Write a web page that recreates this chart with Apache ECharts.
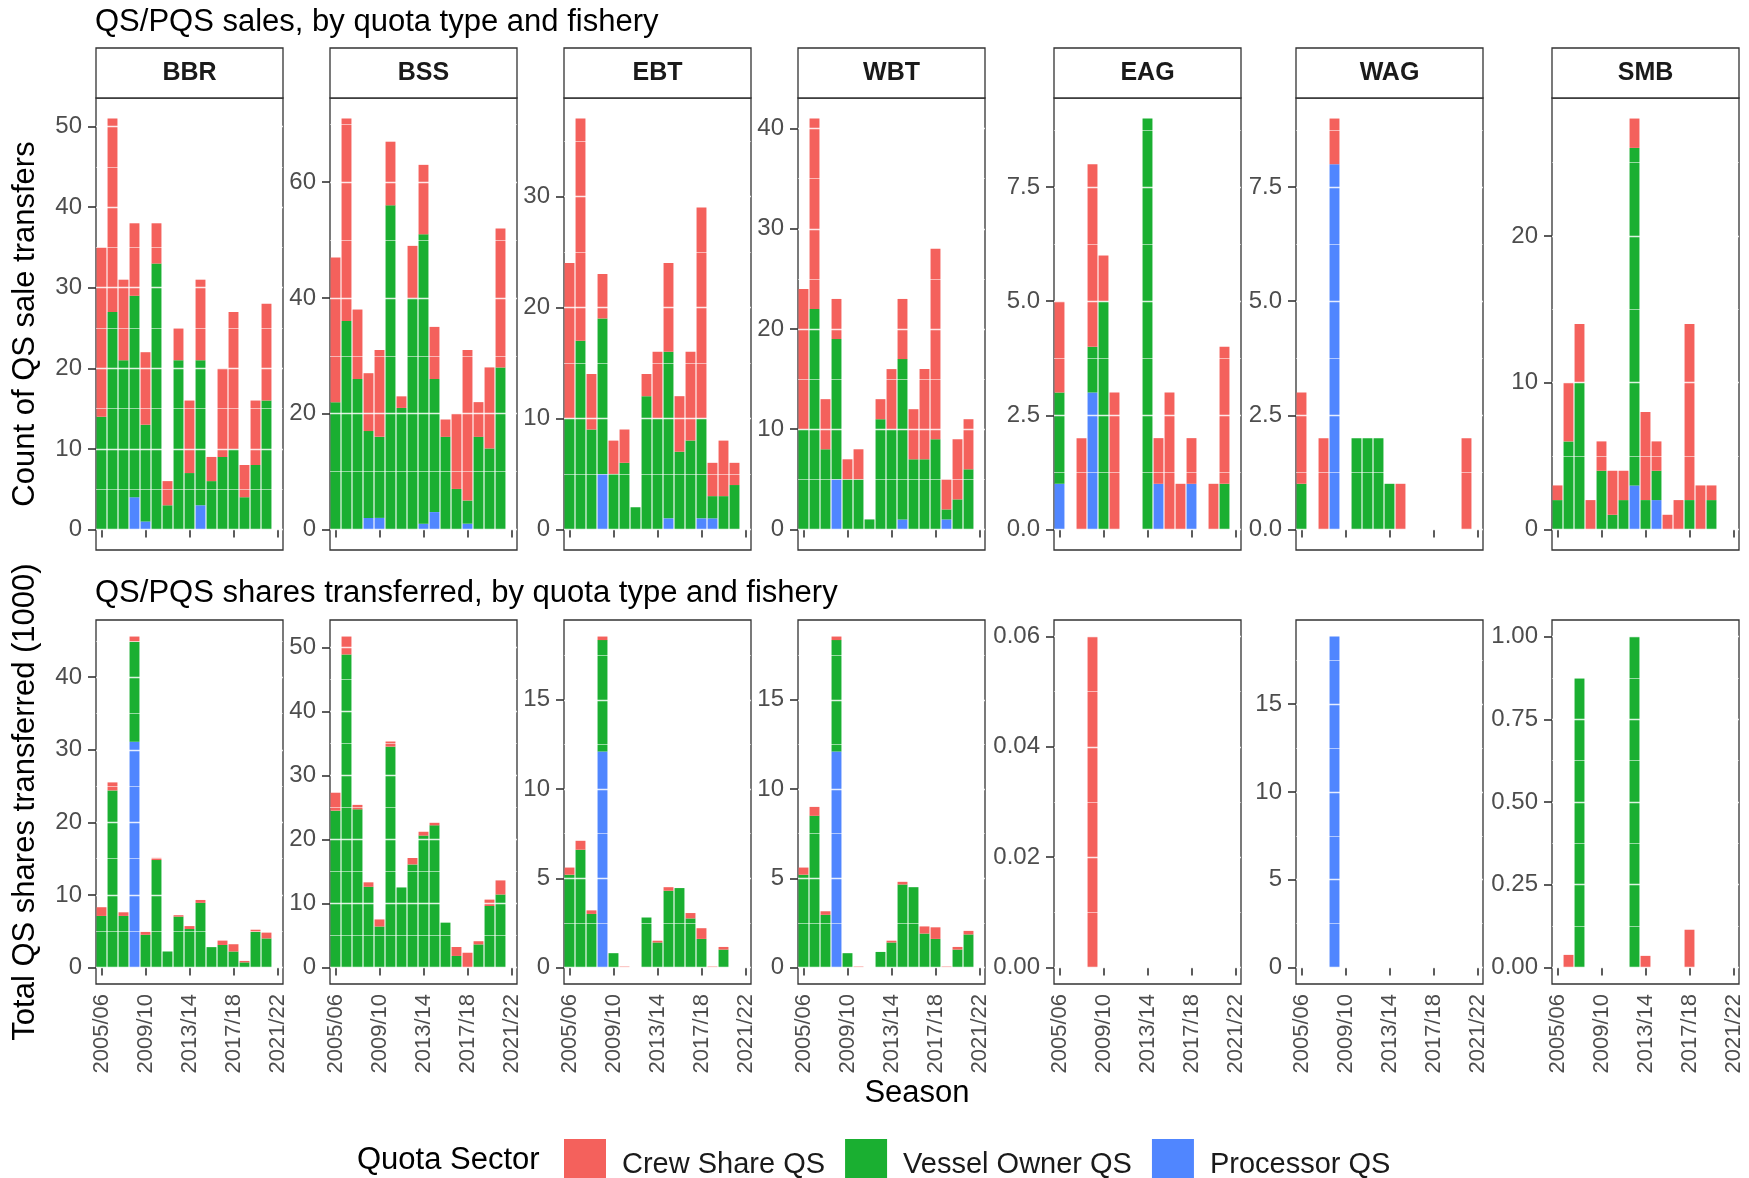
<!DOCTYPE html>
<html>
<head>
<meta charset="utf-8">
<script src="https://cdn.jsdelivr.net/npm/echarts@6/dist/echarts.min.js"></script>
<style>
  html, body { margin: 0; padding: 0; background: #ffffff; }
  #chart { width: 1749px; height: 1178px; }
</style>
</head>
<body>
<div id="chart"></div>
<script>
// ---------- categories ----------
const seasons = ['2005/06','2006/07','2007/08','2008/09','2009/10','2010/11','2011/12','2012/13',
                 '2013/14','2014/15','2015/16','2016/17','2017/18','2018/19','2019/20','2020/21','2021/22'];
const fisheries = ['BBR', 'BSS', 'EBT', 'WBT', 'EAG', 'WAG', 'SMB'];
const sectorNames = ['Crew Share QS', 'Vessel Owner QS', 'Processor QS'];

// ---------- count of QS sale transfers ----------
const bbrSalesProc   = [0,0,0,4,1,0,0,0,0,3,0,0,0,0,0,0,0];
const bbrSalesVessel = [14,27,21,25,12,33,3,21,7,18,6,9,10,4,8,16,0];
const bbrSalesCrew   = [21,24,10,9,9,5,3,4,9,10,3,11,17,4,8,12,0];

const bssSalesProc   = [0,0,0,2,2,0,0,0,1,3,0,0,1,0,0,0,0];
const bssSalesVessel = [22,36,26,15,14,56,21,40,50,23,16,7,4,16,14,28,0];
const bssSalesCrew   = [25,35,12,10,15,11,2,9,12,9,3,13,26,6,14,24,0];

const ebtSalesProc   = [0,0,0,5,0,0,0,0,0,1,0,0,1,1,0,0,0];
const ebtSalesVessel = [10,17,9,14,5,6,2,12,10,15,7,8,9,2,3,4,0];
const ebtSalesCrew   = [14,20,5,4,3,3,0,2,6,8,5,8,19,3,5,2,0];

const wbtSalesProc   = [0,0,0,5,0,0,0,0,0,1,0,0,0,1,0,0,0];
const wbtSalesVessel = [10,22,8,14,5,5,1,11,10,16,7,7,9,1,3,6,0];
const wbtSalesCrew   = [14,19,5,4,2,3,0,2,6,6,5,9,19,3,6,5,0];

const eagSalesProc   = [1,0,0,3,0,0,0,0,0,1,0,0,1,0,0,0,0];
const eagSalesVessel = [2,0,0,1,5,0,0,0,9,0,0,0,0,0,0,1,0];
const eagSalesCrew   = [2,0,2,4,1,3,0,0,0,1,3,1,1,0,1,3,0];

const wagSalesProc   = [0,0,0,8,0,0,0,0,0,0,0,0,0,0,0,0,0];
const wagSalesVessel = [1,0,0,0,0,2,2,2,1,0,0,0,0,0,0,0,0];
const wagSalesCrew   = [2,0,2,1,0,0,0,0,0,1,0,0,0,0,0,2,0];

const smbSalesProc   = [0,0,0,0,0,0,0,3,0,2,0,0,0,0,0,0,0];
const smbSalesVessel = [2,6,10,0,4,1,2,23,2,2,0,0,2,0,2,0,0];
const smbSalesCrew   = [1,4,4,2,2,3,2,2,6,2,1,2,12,3,1,0,0];

// ---------- QS shares transferred (1000) ----------
const bbrSharesProc   = [0,0,0,31.1,0,0,0,0,0,0,0,0,0,0,0,0,0];
const bbrSharesVessel = [7.1,24.4,7.1,13.8,4.5,14.8,2.2,7.0,5.3,8.9,2.8,3.1,2.2,0.7,4.9,4.0,0];
const bbrSharesCrew   = [1.2,1.1,0.5,0.7,0.4,0.3,0,0.2,0.4,0.4,0,0.6,1.0,0.2,0.3,0.8,0];

const bssSharesProc   = [0,0,0,0,0,0,0,0,0,0,0,0,0,0,0,0,0];
const bssSharesVessel = [24.5,48.9,24.7,12.6,6.4,34.5,12.5,16.1,20.6,22.2,7.0,1.8,0,3.6,9.6,11.4,0];
const bssSharesCrew   = [2.8,2.8,0.7,0.7,1.1,0.8,0,1.0,0.6,0.4,0,1.4,2.3,0.5,1.0,2.2,0];

const ebtSharesProc   = [0,0,0,12.1,0,0,0,0,0,0,0,0,0,0,0,0,0];
const ebtSharesVessel = [5.2,6.6,3.0,6.25,0.8,0,0,2.8,1.4,4.3,4.45,2.75,1.6,0,1.0,0,0];
const ebtSharesCrew   = [0.4,0.5,0.2,0.2,0,0.05,0,0,0.1,0.2,0,0.3,0.6,0.05,0.15,0,0];

const wbtSharesProc   = [0,0,0,12.1,0,0,0,0,0,0,0,0,0,0,0,0,0];
const wbtSharesVessel = [5.2,8.5,2.95,6.25,0.8,0,0,0.87,1.4,4.65,4.5,1.9,1.6,0,1.0,1.85,0];
const wbtSharesCrew   = [0.4,0.5,0.2,0.2,0,0.05,0,0,0.1,0.15,0,0.4,0.65,0.05,0.15,0.2,0];

const eagSharesProc   = [0,0,0,0,0,0,0,0,0,0,0,0,0,0,0,0,0];
const eagSharesVessel = [0,0,0,0,0,0,0,0,0,0,0,0,0,0,0,0,0];
const eagSharesCrew   = [0,0,0,0.06,0,0,0,0,0,0,0,0,0,0,0,0,0];

const wagSharesProc   = [0,0,0,18.85,0,0,0,0,0,0,0,0,0,0,0,0,0];
const wagSharesVessel = [0,0,0,0,0,0,0,0,0,0,0,0,0,0,0,0,0];
const wagSharesCrew   = [0,0,0,0,0,0,0,0,0,0,0,0,0,0,0,0,0];

const smbSharesProc   = [0,0,0,0,0,0,0,0,0,0,0,0,0,0,0,0,0];
const smbSharesVessel = [0,0,0.875,0,0,0,0,1.0,0,0,0,0,0,0,0,0,0];
const smbSharesCrew   = [0,0.038,0,0,0,0,0,0,0.035,0,0,0,0.114,0,0,0,0];

// ---------- y tick labels ----------
const salesTicks  = [[0,10,20,30,40,50],[0,20,40,60],[0,10,20,30],[0,10,20,30,40],[0,2.5,5,7.5],[0,2.5,5,7.5],[0,10,20]];
const salesDigits = [0,0,0,0,1,1,0];
const sharesTicks  = [[0,10,20,30,40],[0,10,20,30,40,50],[0,5,10,15],[0,5,10,15],[0,0.02,0.04,0.06],[0,5,10,15],[0,0.25,0.5,0.75,1]];
const sharesDigits = [0,0,0,0,2,0,2];

// ---------- styling ----------
const FONT = '"Liberation Sans", Arial, Helvetica, sans-serif';
const sectorColors = { 'Crew Share QS': '#F4615C', 'Vessel Owner QS': '#1AAF31', 'Processor QS': '#5086FF' };
const panelLefts = [96, 330, 564, 798, 1054, 1296, 1552];
const panelWidth = 187;

const rows = [
  {
    top: 98, height: 452, showLabels: false, ticks: salesTicks, digits: salesDigits,
    data: [
      [bbrSalesProc, bbrSalesVessel, bbrSalesCrew],
      [bssSalesProc, bssSalesVessel, bssSalesCrew],
      [ebtSalesProc, ebtSalesVessel, ebtSalesCrew],
      [wbtSalesProc, wbtSalesVessel, wbtSalesCrew],
      [eagSalesProc, eagSalesVessel, eagSalesCrew],
      [wagSalesProc, wagSalesVessel, wagSalesCrew],
      [smbSalesProc, smbSalesVessel, smbSalesCrew]
    ]
  },
  {
    top: 620, height: 364, showLabels: true, ticks: sharesTicks, digits: sharesDigits,
    data: [
      [bbrSharesProc, bbrSharesVessel, bbrSharesCrew],
      [bssSharesProc, bssSharesVessel, bssSharesCrew],
      [ebtSharesProc, ebtSharesVessel, ebtSharesCrew],
      [wbtSharesProc, wbtSharesVessel, wbtSharesCrew],
      [eagSharesProc, eagSharesVessel, eagSharesCrew],
      [wagSharesProc, wagSharesVessel, wagSharesCrew],
      [smbSharesProc, smbSharesVessel, smbSharesCrew]
    ]
  }
];

const grids = [], xAxes = [], yAxes = [], series = [], graphics = [];
const everyFourth = (i) => i % 4 === 0;

rows.forEach((row) => {
  row.data.forEach((parts, c) => {
    const gi = grids.length;
    const [proc, vessel, crew] = parts;
    grids.push({
      left: panelLefts[c], top: row.top, width: panelWidth, height: row.height,
      show: true, borderColor: '#333333', borderWidth: 1.3, backgroundColor: '#ffffff'
    });

    // stacked total range with 5% padding on both ends
    let m = 0;
    for (let i = 0; i < seasons.length; i++) m = Math.max(m, proc[i] + vessel[i] + crew[i]);
    const lo = -0.05 * m, hi = 1.05 * m;
    const ticks = row.ticks[c];
    const step = ticks[1] - ticks[0];
    const majors = ticks.filter(v => v >= lo && v <= hi);
    const minors = ticks.map(v => v + step / 2).filter(v => v >= lo && v <= hi);
    const digits = row.digits[c];

    xAxes.push({
      type: 'category', gridIndex: gi, data: seasons, boundaryGap: true,
      axisLine: { show: false },
      axisTick: { show: true, alignWithLabel: true, interval: everyFourth, length: 8,
                  lineStyle: { color: '#333333', width: 1.6 } },
      axisLabel: { show: row.showLabels, interval: everyFourth, rotate: 90, margin: 10,
                   fontSize: 22, color: '#4d4d4d', fontFamily: FONT, hideOverlap: false },
      splitLine: { show: false }
    });

    const yMain = yAxes.length;
    yAxes.push({
      type: 'value', gridIndex: gi, position: 'left', min: lo, max: hi,
      axisLine: { show: false },
      axisTick: { show: true, length: 8, customValues: majors, lineStyle: { color: '#333333', width: 1.6 } },
      axisLabel: { show: true, customValues: majors, margin: 14, fontSize: 24, color: '#4d4d4d',
                   fontFamily: FONT, formatter: (v) => Number(v).toFixed(digits), hideOverlap: false },
      splitLine: { show: false }
    });
    // major grid lines, drawn over the bars
    yAxes.push({
      type: 'value', gridIndex: gi, position: 'left', min: lo, max: hi, z: 5,
      axisLine: { show: false },
      axisTick: { show: false, customValues: majors },
      axisLabel: { show: false, customValues: majors },
      splitLine: { show: true, lineStyle: { color: 'rgba(255,255,255,0.85)', width: 1.3 } }
    });
    // minor grid lines
    yAxes.push({
      type: 'value', gridIndex: gi, position: 'left', min: lo, max: hi, z: 5,
      axisLine: { show: false },
      axisTick: { show: false, customValues: minors },
      axisLabel: { show: false, customValues: minors },
      splitLine: { show: true, lineStyle: { color: 'rgba(255,255,255,0.55)', width: 1 } }
    });

    [['Processor QS', proc], ['Vessel Owner QS', vessel], ['Crew Share QS', crew]].forEach(([name, data]) => {
      series.push({
        type: 'bar', name, xAxisIndex: gi, yAxisIndex: yMain, stack: 'panel' + gi,
        data, barCategoryGap: '10%', z: 2, silent: true,
        itemStyle: { color: sectorColors[name] },
        emphasis: { disabled: true }
      });
    });
  });
});

// facet strips over the upper row
fisheries.forEach((f, c) => {
  graphics.push({
    type: 'rect', z: 10,
    shape: { x: panelLefts[c], y: 48, width: panelWidth, height: 50 },
    style: { fill: '#ffffff', stroke: '#333333', lineWidth: 1.3 }
  });
  graphics.push({
    type: 'text', z: 11, x: panelLefts[c] + panelWidth / 2, y: 73,
    style: { text: f, fontSize: 25, fontWeight: 'bold', fontFamily: FONT, fill: '#1a1a1a',
             align: 'center', verticalAlign: 'middle' }
  });
});

const textItem = (text, x, y, size, extra) => Object.assign({
  type: 'text', z: 11, x, y,
  style: { text, fontSize: size, fontFamily: FONT, fill: '#000000', align: 'left', verticalAlign: 'middle' }
}, extra || {});

graphics.push(textItem('QS/PQS sales, by quota type and fishery', 95, 22, 31));
graphics.push(textItem('QS/PQS shares transferred, by quota type and fishery', 95, 593, 31));
graphics.push({
  type: 'text', z: 11, x: 25, y: 324, rotation: Math.PI / 2,
  style: { text: 'Count of QS sale transfers', fontSize: 31, fontFamily: FONT, fill: '#000000',
           align: 'center', verticalAlign: 'middle' }
});
graphics.push({
  type: 'text', z: 11, x: 25, y: 802, rotation: Math.PI / 2,
  style: { text: 'Total QS shares transferred (1000)', fontSize: 31, fontFamily: FONT, fill: '#000000',
           align: 'center', verticalAlign: 'middle' }
});
graphics.push({
  type: 'text', z: 11, x: 917, y: 1093,
  style: { text: 'Season', fontSize: 31, fontFamily: FONT, fill: '#000000', align: 'center', verticalAlign: 'middle' }
});
graphics.push(textItem('Quota Sector', 357, 1160, 31));

const chart = echarts.init(document.getElementById('chart'), null, { renderer: 'canvas' });
chart.setOption({
  animation: false,
  backgroundColor: '#ffffff',
  textStyle: { fontFamily: FONT },
  grid: grids,
  xAxis: xAxes,
  yAxis: yAxes,
  series: series,
  legend: {
    data: sectorNames,
    left: 559, top: 1134,
    icon: 'rect', itemWidth: 42, itemHeight: 51, itemGap: 20,
    selectedMode: false,
    textStyle: { fontSize: 29, color: '#1a1a1a', fontFamily: FONT, padding: [0, 0, 7, 11] }
  },
  graphic: graphics
});
</script>
</body>
</html>
